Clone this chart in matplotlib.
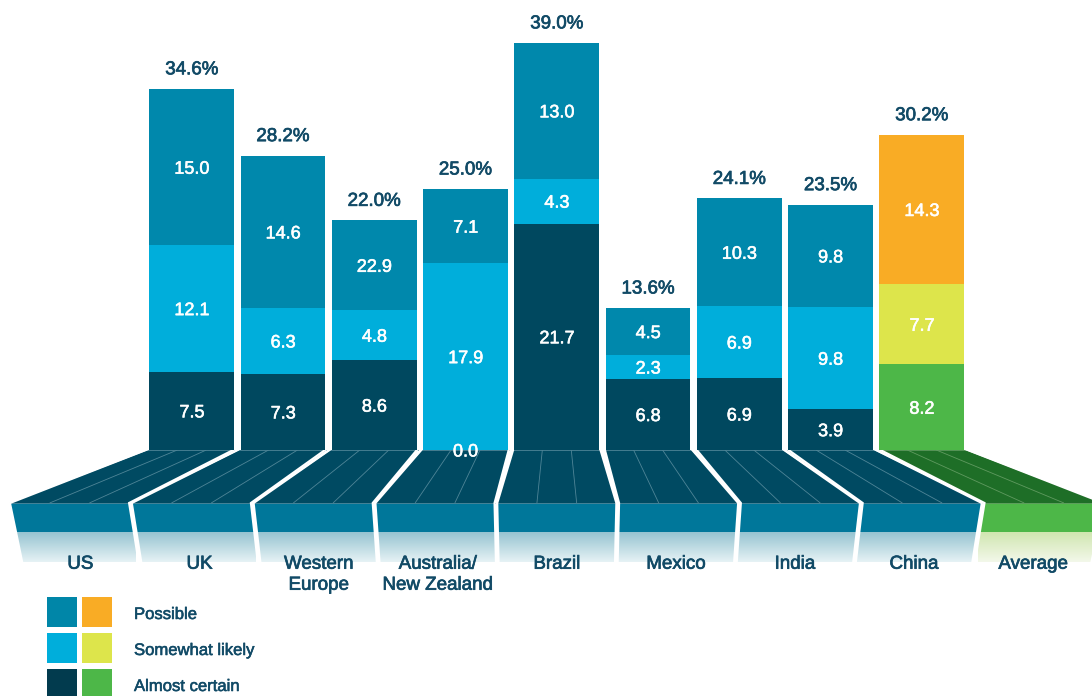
import numpy as np
import matplotlib
matplotlib.use('Agg')
import matplotlib.pyplot as plt
from matplotlib.patches import Polygon, Rectangle
import matplotlib.patheffects as pe

# ---------------- data ----------------
categories = ['US', 'UK', 'Western\nEurope', 'Australia/\nNew Zealand', 'Brazil',
              'Mexico', 'India', 'China', 'Average']
almost_certain = [7.5, 7.3, 8.6, 0.0, 21.7, 6.8, 6.9, 3.9, 8.2]
somewhat_likely = [12.1, 6.3, 4.8, 17.9, 4.3, 2.3, 6.9, 9.8, 7.7]
possible = [15.0, 14.6, 8.6, 7.1, 13.0, 4.5, 10.3, 9.8, 14.3]
possible_labels = ['15.0', '14.6', '22.9', '7.1', '13.0', '4.5', '10.3', '9.8', '14.3']
totals = [34.6, 28.2, 22.0, 25.0, 39.0, 13.6, 24.1, 23.5, 30.2]
series_names = ['Possible', 'Somewhat likely', 'Almost certain']

# ---------------- style ----------------
plt.rcParams['font.family'] = ['Liberation Sans', 'DejaVu Sans']
TXT = '#114a66'
BLUE = {'Possible': '#0088ac', 'Somewhat likely': '#00aedb', 'Almost certain': '#00485f'}
AVG = {'Possible': '#f9ac25', 'Somewhat likely': '#dde54b', 'Almost certain': '#4db748'}
LEG_BLUE = ['#0086a8', '#00aedb', '#023b4e']
LEG_AVG = ['#f9ac25', '#dde54b', '#4db748']
BOLD_DARK = [pe.withStroke(linewidth=0.5, foreground=TXT)]
BOLD_WHITE = [pe.withStroke(linewidth=0.4, foreground='white')]

W, H = 1092, 696
BASE_Y = 450
PX_PER_PCT = 10.436
BAR_C0, PITCH, BAR_W = 191.8, 91.25, 0.93

fig = plt.figure(figsize=(W / 100, H / 100), dpi=100)

# decoration axes in pixel coordinates
deco = fig.add_axes([0, 0, 1, 1], zorder=1)
deco.set_xlim(0, W)
deco.set_ylim(H, 0)
deco.axis('off')

# bar axes
ax = fig.add_axes([0, (H - BASE_Y) / H, 1, BASE_Y / H], zorder=2)
ax.set_xlim(-BAR_C0 / PITCH, (W - BAR_C0) / PITCH)
ax.set_ylim(0, BASE_Y / PX_PER_PCT)
ax.axis('off')
ax.patch.set_alpha(0)

n = len(categories)
x = np.arange(n)
is_avg = [c == 'Average' for c in categories]

def col(name):
    return [AVG[name] if a else BLUE[name] for a in is_avg]

b1 = np.array(almost_certain)
b2 = b1 + np.array(somewhat_likely)
ax.bar(x, almost_certain, width=BAR_W, color=col('Almost certain'), linewidth=0)
ax.bar(x, somewhat_likely, bottom=b1, width=BAR_W, color=col('Somewhat likely'), linewidth=0)
ax.bar(x, possible, bottom=b2, width=BAR_W, color=col('Possible'), linewidth=0)

val_kw = dict(textcoords='offset points', ha='center', va='baseline', color='white',
              fontsize=13, annotation_clip=False, path_effects=BOLD_WHITE)
for i in range(n):
    ax.annotate(f'{almost_certain[i]:.1f}', (x[i], almost_certain[i] / 2), xytext=(0, -4.7), **val_kw)
    ax.annotate(f'{somewhat_likely[i]:.1f}', (x[i], b1[i] + somewhat_likely[i] / 2), xytext=(0, -4.7), **val_kw)
    ax.annotate(possible_labels[i], (x[i], b2[i] + possible[i] / 2), xytext=(0, -4.7), **val_kw)
    top = b2[i] + possible[i]
    ax.annotate(f'{totals[i]:.1f}%', (x[i], top), xytext=(0, 10.5), textcoords='offset points',
                ha='center', va='baseline', color=TXT, fontsize=13.5, annotation_clip=False,
                path_effects=BOLD_DARK)

# ---------------- perspective platform ----------------
Y_TOP, Y_EDGE, Y_MID, Y_BOT = 450, 503, 532, 562
S_EDGE, S_BOT = 1.335, 1.305
HW_EDGE = 59.6
C = BAR_C0 + PITCH * (n - 1) / 2
HB = BAR_W * PITCH / 2 + 1.0

def front_x(xc, y):
    s = S_EDGE + (S_BOT - S_EDGE) * (y - Y_EDGE) / (Y_BOT - Y_EDGE)
    return C + (xc - C) * s, HW_EDGE * s / S_EDGE

for i in range(n):
    xc = BAR_C0 + PITCH * i
    green = is_avg[i]
    top_c = '#1e6e27' if green else '#004a62'
    front_c = '#4db748' if green else '#00779a'
    line_c = '#5f9a5f' if green else '#4f8597'
    g_top = np.array(matplotlib.colors.to_rgb('#d0e6b0' if green else '#96c4d1'))
    g_bot = np.array(matplotlib.colors.to_rgb('#f3f8ea' if green else '#e6f2f5'))

    l, r = xc - HB, xc + HB
    bc, bhw = front_x(xc, Y_EDGE)
    mc, mhw = front_x(xc, Y_MID)
    fc, fhw = front_x(xc, Y_BOT)

    deco.add_patch(Polygon([(l, Y_TOP), (r, Y_TOP), (bc + bhw, Y_EDGE), (bc - bhw, Y_EDGE)],
                           closed=True, facecolor=top_c, edgecolor='none'))
    deco.add_patch(Polygon([(bc - bhw, Y_EDGE), (bc + bhw, Y_EDGE), (mc + mhw, Y_MID), (mc - mhw, Y_MID)],
                           closed=True, facecolor=front_c, edgecolor='none'))
    gpoly = Polygon([(mc - mhw, Y_MID), (mc + mhw, Y_MID), (fc + fhw, Y_BOT), (fc - fhw, Y_BOT)],
                    closed=True, facecolor='none', edgecolor='none')
    deco.add_patch(gpoly)
    t = np.linspace(0, 1, 64)[:, None]
    grad = (g_top[None, :] * (1 - t) + g_bot[None, :] * t)[:, None, :]
    im = deco.imshow(grad, extent=[mc - mhw - 2, mc + mhw + 2, Y_BOT, Y_MID], origin='upper',
                     aspect='auto', interpolation='bilinear', zorder=1)
    im.set_clip_path(gpoly)

    for tt in (1 / 3, 2 / 3):
        deco.plot([l + tt * (r - l), bc - bhw + tt * 2 * bhw], [Y_TOP, Y_EDGE],
                  color=line_c, lw=0.6, solid_capstyle='butt')
    deco.plot([l, r], [Y_TOP + 0.3, Y_TOP + 0.3], color=line_c, lw=0.6)
    deco.plot([bc - bhw, bc + bhw], [Y_EDGE - 0.3, Y_EDGE - 0.3], color=line_c, lw=0.6)

    # white separators along the side edges
    for sgn, xt in ((-1, l), (1, r)):
        deco.plot([xt, bc + sgn * bhw, mc + sgn * mhw, fc + sgn * fhw],
                  [Y_TOP - 1, Y_EDGE, Y_MID, Y_BOT + 0.5],
                  color='white', lw=1.6, solid_joinstyle='miter', solid_capstyle='butt', zorder=3)

    for k, line in enumerate(categories[i].split('\n')):
        deco.text(fc, 568.7 + 21 * k, line, ha='center', va='baseline', color=TXT, fontsize=13.5,
                  path_effects=BOLD_DARK)

# ---------------- legend ----------------
rows_y = [597, 633, 669]
for k, name in enumerate(series_names):
    deco.add_patch(Rectangle((47, rows_y[k]), 30, 30, facecolor=LEG_BLUE[k], edgecolor='none'))
    deco.add_patch(Rectangle((82, rows_y[k]), 30, 30, facecolor=LEG_AVG[k], edgecolor='none'))
    deco.text(134, rows_y[k] + 22, name, ha='left', va='baseline', color=TXT, fontsize=12,
              path_effects=[pe.withStroke(linewidth=0.4, foreground=TXT)])

fig.savefig('out.png', dpi=100)
